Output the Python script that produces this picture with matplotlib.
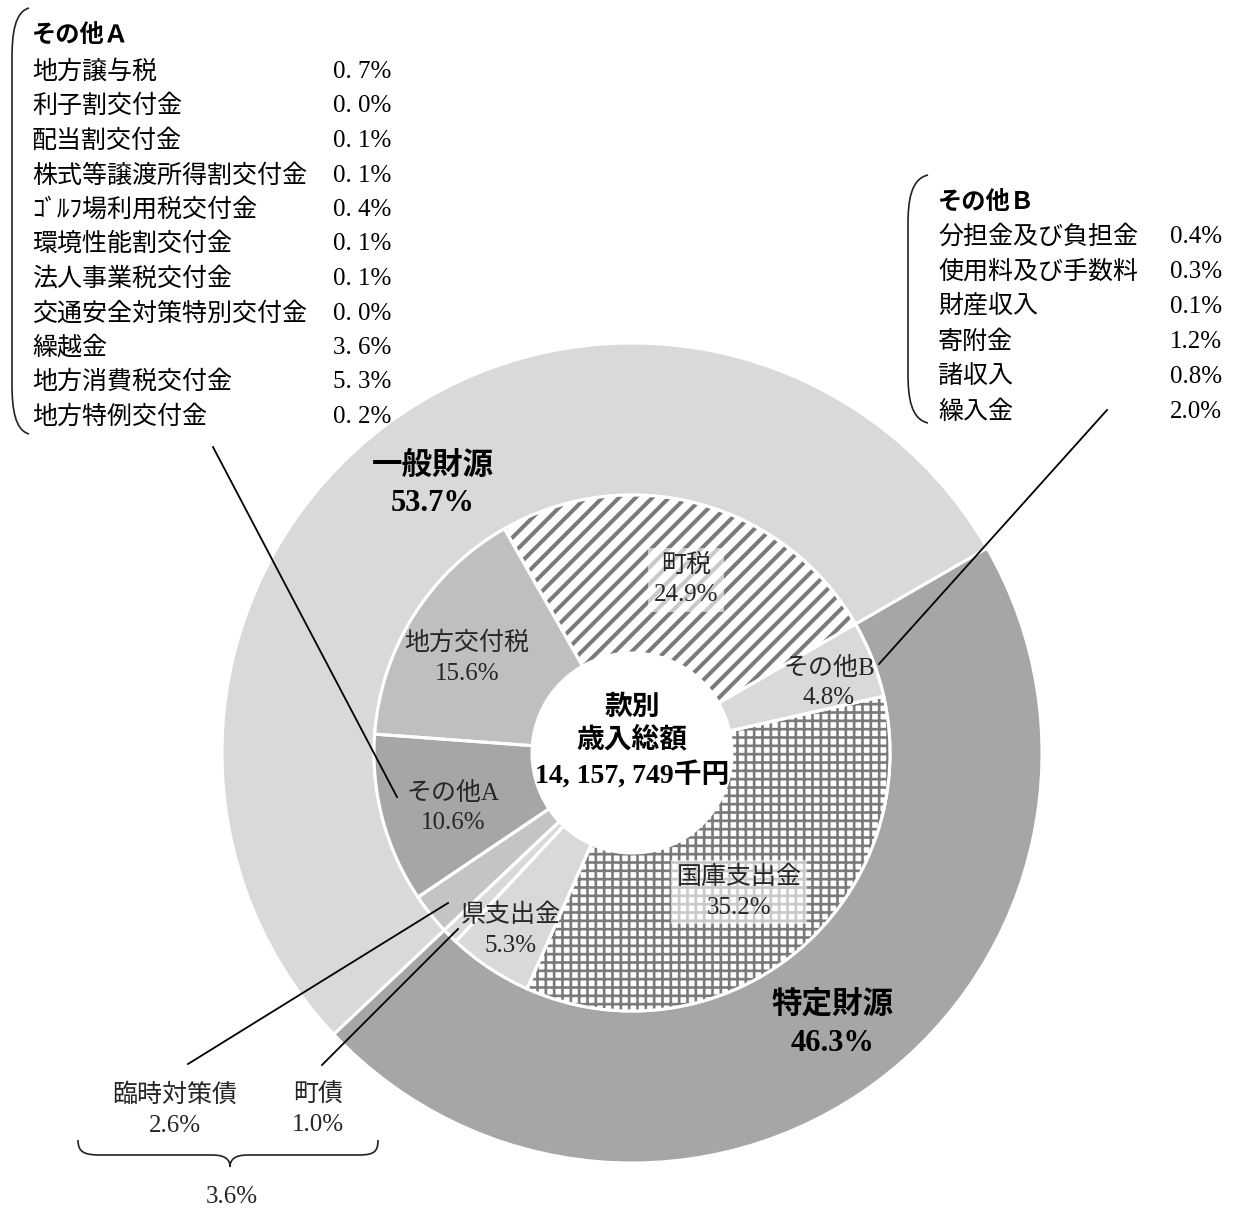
import matplotlib
matplotlib.use("Agg")
import matplotlib.pyplot as plt
from matplotlib.path import Path
from matplotlib.patches import PathPatch

plt.rcParams["font.family"] = ["Liberation Serif", "Noto Sans CJK JP", "DejaVu Sans"]
plt.rcParams["hatch.linewidth"] = 2.2

W, H = 1236, 1211

# ---- data ---------------------------------------------------------------
outer_labels = ["特定財源", "一般財源"]
outer_vals = [46.3, 53.7]

inner_labels = ["その他B", "国庫支出金", "県支出金", "町債", "臨時対策債",
                "その他A", "地方交付税", "町税"]
inner_vals = [4.8, 35.2, 5.3, 1.0, 2.6, 10.6, 15.6, 24.9]

other_a_items = ["地方譲与税", "利子割交付金", "配当割交付金", "株式等譲渡所得割交付金",
                 "ｺﾞﾙﾌ場利用税交付金", "環境性能割交付金", "法人事業税交付金",
                 "交通安全対策特別交付金", "繰越金", "地方消費税交付金", "地方特例交付金"]
other_a_vals = [0.7, 0.0, 0.1, 0.1, 0.4, 0.1, 0.1, 0.0, 3.6, 5.3, 0.2]

other_b_items = ["分担金及び負担金", "使用料及び手数料", "財産収入", "寄附金", "諸収入", "繰入金"]
other_b_vals = [0.4, 0.3, 0.1, 1.2, 0.8, 2.0]

total_text = "14, 157, 749千円"

# ---- styling --------------------------------------------------------------
outer_colors = ["#a6a6a6", "#d9d9d9"]
inner_colors = ["#d9d9d9", "white", "#d9d9d9", "#d9d9d9", "#c4c4c4",
                "#a6a6a6", "#bfbfbf", "white"]
inner_hatch = {"国庫支出金": ("++", 1.9), "町税": ("//", 2.9)}
HATCH_C = "#7a7a7a"

CX, CY = 632, 753
R_OUT, R_MID, R_IN = 410, 258, 100

fig = plt.figure(figsize=(W / 100, H / 100), dpi=100)
ax = fig.add_axes([0, 0, 1, 1])

# y axis runs downward, so clockwise on screen is counterclock in data space
ax.pie(outer_vals, radius=R_OUT, center=(CX, CY), startangle=-30,
       counterclock=True, colors=outer_colors,
       wedgeprops=dict(width=R_OUT - R_MID, edgecolor="white", linewidth=2.2))

wedges, _ = ax.pie(inner_vals, radius=R_MID, center=(CX, CY), startangle=-30,
                   counterclock=True, colors=inner_colors,
                   wedgeprops=dict(width=R_MID - R_IN, linewidth=0))
for w, name in zip(wedges, inner_labels):
    if name in inner_hatch:
        pattern, hlw = inner_hatch[name]
        w.set_hatch(pattern)
        w.set_edgecolor(HATCH_C)
        if hasattr(w, "set_hatch_linewidth"):
            w.set_hatch_linewidth(hlw)
# white separators on top of the hatching
ax.pie(inner_vals, radius=R_MID, center=(CX, CY), startangle=-30,
       counterclock=True, colors=["none"] * len(inner_vals),
       wedgeprops=dict(width=R_MID - R_IN, edgecolor="white", linewidth=2.2))

ax.set_xlim(0, W)
ax.set_ylim(H, 0)
ax.set_aspect("equal")
ax.axis("off")

FS = 18
vals = dict(zip(inner_labels, inner_vals))

# inner ring labels
label_pos = {"町税": (686, 580), "地方交付税": (467, 658), "その他A": (453, 808),
             "県支出金": (511, 930), "国庫支出金": (739, 892), "その他B": (829, 683)}
for name, (x, y) in label_pos.items():
    bbox = None
    if name in inner_hatch:
        bbox = dict(facecolor="white", alpha=0.6, edgecolor="none", pad=4)
    ax.text(x, y, f"{name}\n{vals[name]:.1f}%", ha="center", va="center",
            fontsize=FS, color="#262626", linespacing=1.45, bbox=bbox)

# outer ring labels
for name, v, (x, y) in zip(outer_labels, outer_vals, [(833, 1024), (433, 485)]):
    ax.text(x, y, f"{name}\n{v:.1f}%", ha="center", va="center",
            fontsize=22, fontweight="bold", linespacing=1.4)

# centre
ax.text(CX, 742, f"款別\n歳入総額\n{total_text}", ha="center", va="center",
        fontsize=20, fontweight="bold", linespacing=1.3)

# その他A breakdown
ax.text(32, 36, "その他Ａ", ha="left", va="center", fontsize=17.5, fontweight="bold")
for i, (name, v) in enumerate(zip(other_a_items, other_a_vals)):
    y = 72 + i * 34.5
    ax.text(32, y, name, ha="left", va="center", fontsize=FS)
    ax.text(333, y, f"{v:.1f}%".replace(".", ". "), ha="left", va="center", fontsize=FS)

# その他B breakdown
ax.text(938, 203, "その他Ｂ", ha="left", va="center", fontsize=17.5, fontweight="bold")
for i, (name, v) in enumerate(zip(other_b_items, other_b_vals)):
    y = 237 + i * 35
    ax.text(938, y, name, ha="left", va="center", fontsize=FS)
    ax.text(1170, y, f"{v:.1f}%", ha="left", va="center", fontsize=FS)


def bracket(x_top, y_top, x_edge, y_bot):
    verts = [(x_top, y_top), (x_edge + 3, y_top + 4), (x_edge, y_top + 25), (x_edge, y_top + 50),
             (x_edge, y_bot - 50),
             (x_edge, y_bot - 25), (x_edge + 3, y_bot - 4), (x_top, y_bot)]
    codes = [Path.MOVETO, Path.CURVE4, Path.CURVE4, Path.CURVE4,
             Path.LINETO, Path.CURVE4, Path.CURVE4, Path.CURVE4]
    ax.add_patch(PathPatch(Path(verts, codes), fill=False, lw=1.2, color="#222222"))


bracket(29, 8, 12, 434)
bracket(928, 175, 908, 423)

# leader lines
leaders = [((213, 447), (397, 797)), ((1107, 410), (879, 664)),
           ((188, 1064), (448, 903)), ((322, 1065), (458, 929))]
for (x0, y0), (x1, y1) in leaders:
    ax.plot([x0, x1], [y0, y1], color="black", lw=1.3)

# bond labels below the chart
bonds = ["臨時対策債", "町債"]
for name, x in zip(bonds, [175, 318]):
    ax.text(x, 1110, f"{name}\n{vals[name]:.1f}%", ha="center", va="center",
            fontsize=FS, color="#262626", linespacing=1.45)

brace = Path([(78, 1140), (78, 1152), (84, 1155), (100, 1155), (212, 1155),
              (226, 1155), (230, 1160), (230, 1167),
              (230, 1160), (234, 1155), (248, 1155), (358, 1155),
              (374, 1155), (378, 1152), (378, 1140)],
             [Path.MOVETO, Path.CURVE4, Path.CURVE4, Path.CURVE4, Path.LINETO,
              Path.CURVE4, Path.CURVE4, Path.CURVE4,
              Path.CURVE4, Path.CURVE4, Path.CURVE4, Path.LINETO,
              Path.CURVE4, Path.CURVE4, Path.CURVE4])
ax.add_patch(PathPatch(brace, fill=False, lw=1.2, color="#222222"))
ax.text(232, 1197, f"{sum(vals[b] for b in bonds):.1f}%", ha="center", va="center",
        fontsize=FS, color="#262626")

fig.savefig("out.png", dpi=100)
